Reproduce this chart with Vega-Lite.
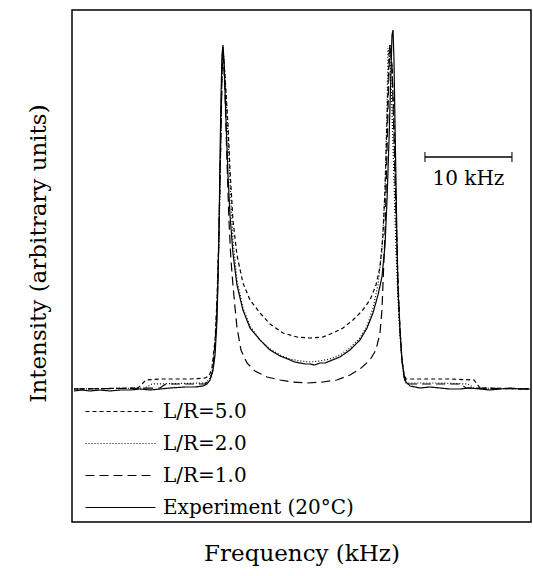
{
  "$schema": "https://vega.github.io/schema/vega-lite/v6.json",
  "width": 459,
  "height": 512,
  "autosize": "none",
  "padding": {"left": 72, "top": 10, "right": 2, "bottom": 54},
  "background": "white",
  "config": {
    "view": {"stroke": "black", "strokeWidth": 1.5},
    "font": "DejaVu Serif",
    "axis": {"grid": false, "labels": false, "ticks": false, "domain": false, "titleFont": "DejaVu Serif", "titleFontSize": 23, "titleFontWeight": "normal", "titleColor": "black"}
  },
  "datasets": {
    "curves": [
      {"s": "L/R=5.0", "f": -26.78, "I": -1}, {"s": "L/R=5.0", "f": -19.43, "I": 0}, {"s": "L/R=5.0", "f": -18.51, "I": 8},
      {"s": "L/R=5.0", "f": -16.90, "I": 9}, {"s": "L/R=5.0", "f": -13.45, "I": 9}, {"s": "L/R=5.0", "f": -11.72, "I": 10},
      {"s": "L/R=5.0", "f": -11.26, "I": 12}, {"s": "L/R=5.0", "f": -10.92, "I": 20}, {"s": "L/R=5.0", "f": -10.57, "I": 48},
      {"s": "L/R=5.0", "f": -10.34, "I": 88}, {"s": "L/R=5.0", "f": -10.11, "I": 158}, {"s": "L/R=5.0", "f": -9.89, "I": 258},
      {"s": "L/R=5.0", "f": -9.77, "I": 318}, {"s": "L/R=5.0", "f": -9.66, "I": 338}, {"s": "L/R=5.0", "f": -9.43, "I": 313},
      {"s": "L/R=5.0", "f": -9.08, "I": 263}, {"s": "L/R=5.0", "f": -8.85, "I": 218}, {"s": "L/R=5.0", "f": -8.51, "I": 168},
      {"s": "L/R=5.0", "f": -8.05, "I": 133}, {"s": "L/R=5.0", "f": -7.36, "I": 105}, {"s": "L/R=5.0", "f": -6.55, "I": 88},
      {"s": "L/R=5.0", "f": -5.40, "I": 75}, {"s": "L/R=5.0", "f": -4.25, "I": 64}, {"s": "L/R=5.0", "f": -2.76, "I": 55},
      {"s": "L/R=5.0", "f": -1.15, "I": 51}, {"s": "L/R=5.0", "f": 0.34, "I": 50}, {"s": "L/R=5.0", "f": 1.84, "I": 51},
      {"s": "L/R=5.0", "f": 2.99, "I": 55}, {"s": "L/R=5.0", "f": 4.14, "I": 60}, {"s": "L/R=5.0", "f": 5.29, "I": 68},
      {"s": "L/R=5.0", "f": 6.32, "I": 77}, {"s": "L/R=5.0", "f": 7.24, "I": 88}, {"s": "L/R=5.0", "f": 7.93, "I": 103},
      {"s": "L/R=5.0", "f": 8.39, "I": 121}, {"s": "L/R=5.0", "f": 8.74, "I": 153}, {"s": "L/R=5.0", "f": 8.97, "I": 198},
      {"s": "L/R=5.0", "f": 9.20, "I": 268}, {"s": "L/R=5.0", "f": 9.43, "I": 333}, {"s": "L/R=5.0", "f": 9.54, "I": 343},
      {"s": "L/R=5.0", "f": 9.77, "I": 323}, {"s": "L/R=5.0", "f": 10.00, "I": 263}, {"s": "L/R=5.0", "f": 10.23, "I": 183},
      {"s": "L/R=5.0", "f": 10.46, "I": 108}, {"s": "L/R=5.0", "f": 10.69, "I": 58}, {"s": "L/R=5.0", "f": 10.92, "I": 28},
      {"s": "L/R=5.0", "f": 11.15, "I": 14}, {"s": "L/R=5.0", "f": 11.38, "I": 9}, {"s": "L/R=5.0", "f": 12.99, "I": 9},
      {"s": "L/R=5.0", "f": 16.44, "I": 9}, {"s": "L/R=5.0", "f": 19.20, "I": 8}, {"s": "L/R=5.0", "f": 19.89, "I": 0},
      {"s": "L/R=5.0", "f": 25.63, "I": -1},

      {"s": "L/R=2.0", "f": -26.78, "I": -1}, {"s": "L/R=2.0", "f": -18.62, "I": 0}, {"s": "L/R=2.0", "f": -17.82, "I": 4},
      {"s": "L/R=2.0", "f": -11.72, "I": 5}, {"s": "L/R=2.0", "f": -11.26, "I": 8}, {"s": "L/R=2.0", "f": -10.92, "I": 16},
      {"s": "L/R=2.0", "f": -10.57, "I": 43}, {"s": "L/R=2.0", "f": -10.34, "I": 83}, {"s": "L/R=2.0", "f": -10.11, "I": 153},
      {"s": "L/R=2.0", "f": -9.89, "I": 258}, {"s": "L/R=2.0", "f": -9.77, "I": 328}, {"s": "L/R=2.0", "f": -9.66, "I": 341},
      {"s": "L/R=2.0", "f": -9.43, "I": 313}, {"s": "L/R=2.0", "f": -9.08, "I": 253}, {"s": "L/R=2.0", "f": -8.85, "I": 208},
      {"s": "L/R=2.0", "f": -8.51, "I": 148}, {"s": "L/R=2.0", "f": -8.05, "I": 108}, {"s": "L/R=2.0", "f": -7.36, "I": 80},
      {"s": "L/R=2.0", "f": -6.55, "I": 62}, {"s": "L/R=2.0", "f": -5.40, "I": 48}, {"s": "L/R=2.0", "f": -4.25, "I": 39},
      {"s": "L/R=2.0", "f": -3.10, "I": 33}, {"s": "L/R=2.0", "f": -1.95, "I": 29}, {"s": "L/R=2.0", "f": -0.80, "I": 27},
      {"s": "L/R=2.0", "f": 0.34, "I": 26}, {"s": "L/R=2.0", "f": 1.49, "I": 27}, {"s": "L/R=2.0", "f": 2.64, "I": 29},
      {"s": "L/R=2.0", "f": 3.79, "I": 33}, {"s": "L/R=2.0", "f": 4.94, "I": 40}, {"s": "L/R=2.0", "f": 6.09, "I": 50},
      {"s": "L/R=2.0", "f": 6.90, "I": 62}, {"s": "L/R=2.0", "f": 7.59, "I": 80}, {"s": "L/R=2.0", "f": 8.16, "I": 103},
      {"s": "L/R=2.0", "f": 8.62, "I": 138}, {"s": "L/R=2.0", "f": 8.97, "I": 198}, {"s": "L/R=2.0", "f": 9.20, "I": 278},
      {"s": "L/R=2.0", "f": 9.31, "I": 340}, {"s": "L/R=2.0", "f": 9.54, "I": 328}, {"s": "L/R=2.0", "f": 9.77, "I": 278},
      {"s": "L/R=2.0", "f": 10.00, "I": 208}, {"s": "L/R=2.0", "f": 10.23, "I": 138}, {"s": "L/R=2.0", "f": 10.46, "I": 88},
      {"s": "L/R=2.0", "f": 10.69, "I": 53}, {"s": "L/R=2.0", "f": 10.92, "I": 26}, {"s": "L/R=2.0", "f": 11.15, "I": 11},
      {"s": "L/R=2.0", "f": 11.38, "I": 5}, {"s": "L/R=2.0", "f": 15.29, "I": 5}, {"s": "L/R=2.0", "f": 18.51, "I": 4},
      {"s": "L/R=2.0", "f": 19.20, "I": 0}, {"s": "L/R=2.0", "f": 25.63, "I": -1},

      {"s": "L/R=1.0", "f": -26.78, "I": -1}, {"s": "L/R=1.0", "f": -16.90, "I": 0}, {"s": "L/R=1.0", "f": -16.21, "I": 4},
      {"s": "L/R=1.0", "f": -11.72, "I": 4}, {"s": "L/R=1.0", "f": -11.15, "I": 8}, {"s": "L/R=1.0", "f": -10.80, "I": 18},
      {"s": "L/R=1.0", "f": -10.46, "I": 58}, {"s": "L/R=1.0", "f": -10.23, "I": 108}, {"s": "L/R=1.0", "f": -10.00, "I": 208},
      {"s": "L/R=1.0", "f": -9.77, "I": 308}, {"s": "L/R=1.0", "f": -9.66, "I": 340}, {"s": "L/R=1.0", "f": -9.43, "I": 298},
      {"s": "L/R=1.0", "f": -9.20, "I": 228}, {"s": "L/R=1.0", "f": -8.97, "I": 168}, {"s": "L/R=1.0", "f": -8.74, "I": 128},
      {"s": "L/R=1.0", "f": -8.51, "I": 103}, {"s": "L/R=1.0", "f": -8.28, "I": 81}, {"s": "L/R=1.0", "f": -8.05, "I": 61},
      {"s": "L/R=1.0", "f": -7.59, "I": 38}, {"s": "L/R=1.0", "f": -6.90, "I": 25}, {"s": "L/R=1.0", "f": -5.98, "I": 17},
      {"s": "L/R=1.0", "f": -4.60, "I": 11}, {"s": "L/R=1.0", "f": -3.10, "I": 8}, {"s": "L/R=1.0", "f": -1.61, "I": 6},
      {"s": "L/R=1.0", "f": 0.11, "I": 5}, {"s": "L/R=1.0", "f": 1.84, "I": 6}, {"s": "L/R=1.0", "f": 3.45, "I": 8},
      {"s": "L/R=1.0", "f": 4.94, "I": 13}, {"s": "L/R=1.0", "f": 6.09, "I": 19}, {"s": "L/R=1.0", "f": 7.24, "I": 28},
      {"s": "L/R=1.0", "f": 7.93, "I": 38}, {"s": "L/R=1.0", "f": 8.39, "I": 55}, {"s": "L/R=1.0", "f": 8.62, "I": 78},
      {"s": "L/R=1.0", "f": 8.74, "I": 105}, {"s": "L/R=1.0", "f": 8.97, "I": 155}, {"s": "L/R=1.0", "f": 9.20, "I": 238},
      {"s": "L/R=1.0", "f": 9.43, "I": 318}, {"s": "L/R=1.0", "f": 9.54, "I": 343}, {"s": "L/R=1.0", "f": 9.77, "I": 323},
      {"s": "L/R=1.0", "f": 10.00, "I": 253}, {"s": "L/R=1.0", "f": 10.23, "I": 173}, {"s": "L/R=1.0", "f": 10.46, "I": 103},
      {"s": "L/R=1.0", "f": 10.69, "I": 58}, {"s": "L/R=1.0", "f": 10.92, "I": 28}, {"s": "L/R=1.0", "f": 11.15, "I": 11},
      {"s": "L/R=1.0", "f": 11.38, "I": 4}, {"s": "L/R=1.0", "f": 17.59, "I": 4}, {"s": "L/R=1.0", "f": 18.28, "I": 0},
      {"s": "L/R=1.0", "f": 25.63, "I": -1},

      {"s": "Experiment (20°C)", "f": -26.78, "I": -3}, {"s": "Experiment (20°C)", "f": -25.90, "I": -2}, {"s": "Experiment (20°C)", "f": -24.94, "I": -3},
      {"s": "Experiment (20°C)", "f": -23.79, "I": -2}, {"s": "Experiment (20°C)", "f": -22.64, "I": -3}, {"s": "Experiment (20°C)", "f": -21.49, "I": -2},
      {"s": "Experiment (20°C)", "f": -20.34, "I": -2}, {"s": "Experiment (20°C)", "f": -19.20, "I": -1}, {"s": "Experiment (20°C)", "f": -18.05, "I": -2},
      {"s": "Experiment (20°C)", "f": -16.90, "I": -1}, {"s": "Experiment (20°C)", "f": -15.75, "I": 0}, {"s": "Experiment (20°C)", "f": -14.02, "I": 1},
      {"s": "Experiment (20°C)", "f": -12.87, "I": 1}, {"s": "Experiment (20°C)", "f": -11.95, "I": 2}, {"s": "Experiment (20°C)", "f": -11.49, "I": 4},
      {"s": "Experiment (20°C)", "f": -11.15, "I": 8}, {"s": "Experiment (20°C)", "f": -10.80, "I": 18}, {"s": "Experiment (20°C)", "f": -10.57, "I": 33},
      {"s": "Experiment (20°C)", "f": -10.34, "I": 68}, {"s": "Experiment (20°C)", "f": -10.23, "I": 108}, {"s": "Experiment (20°C)", "f": -10.11, "I": 158},
      {"s": "Experiment (20°C)", "f": -10.00, "I": 228}, {"s": "Experiment (20°C)", "f": -9.89, "I": 288}, {"s": "Experiment (20°C)", "f": -9.77, "I": 333},
      {"s": "Experiment (20°C)", "f": -9.66, "I": 343}, {"s": "Experiment (20°C)", "f": -9.54, "I": 328}, {"s": "Experiment (20°C)", "f": -9.31, "I": 268},
      {"s": "Experiment (20°C)", "f": -9.08, "I": 213}, {"s": "Experiment (20°C)", "f": -8.85, "I": 173}, {"s": "Experiment (20°C)", "f": -8.51, "I": 135},
      {"s": "Experiment (20°C)", "f": -8.05, "I": 103}, {"s": "Experiment (20°C)", "f": -7.36, "I": 78}, {"s": "Experiment (20°C)", "f": -6.55, "I": 60},
      {"s": "Experiment (20°C)", "f": -5.40, "I": 48}, {"s": "Experiment (20°C)", "f": -4.25, "I": 38}, {"s": "Experiment (20°C)", "f": -3.10, "I": 32},
      {"s": "Experiment (20°C)", "f": -2.50, "I": 30}, {"s": "Experiment (20°C)", "f": -1.95, "I": 28}, {"s": "Experiment (20°C)", "f": -1.40, "I": 26},
      {"s": "Experiment (20°C)", "f": -0.80, "I": 25}, {"s": "Experiment (20°C)", "f": -0.20, "I": 24}, {"s": "Experiment (20°C)", "f": 0.34, "I": 24},
      {"s": "Experiment (20°C)", "f": 0.90, "I": 23}, {"s": "Experiment (20°C)", "f": 1.49, "I": 25}, {"s": "Experiment (20°C)", "f": 2.10, "I": 25},
      {"s": "Experiment (20°C)", "f": 2.64, "I": 27}, {"s": "Experiment (20°C)", "f": 3.79, "I": 31}, {"s": "Experiment (20°C)", "f": 4.94, "I": 38},
      {"s": "Experiment (20°C)", "f": 6.09, "I": 48}, {"s": "Experiment (20°C)", "f": 6.90, "I": 60}, {"s": "Experiment (20°C)", "f": 7.59, "I": 75},
      {"s": "Experiment (20°C)", "f": 8.16, "I": 93}, {"s": "Experiment (20°C)", "f": 8.62, "I": 111}, {"s": "Experiment (20°C)", "f": 8.97, "I": 143},
      {"s": "Experiment (20°C)", "f": 9.20, "I": 188}, {"s": "Experiment (20°C)", "f": 9.43, "I": 248}, {"s": "Experiment (20°C)", "f": 9.66, "I": 318},
      {"s": "Experiment (20°C)", "f": 9.77, "I": 353}, {"s": "Experiment (20°C)", "f": 9.89, "I": 358}, {"s": "Experiment (20°C)", "f": 10.00, "I": 328},
      {"s": "Experiment (20°C)", "f": 10.11, "I": 268}, {"s": "Experiment (20°C)", "f": 10.23, "I": 208}, {"s": "Experiment (20°C)", "f": 10.34, "I": 148},
      {"s": "Experiment (20°C)", "f": 10.46, "I": 98}, {"s": "Experiment (20°C)", "f": 10.69, "I": 58}, {"s": "Experiment (20°C)", "f": 10.92, "I": 28},
      {"s": "Experiment (20°C)", "f": 11.15, "I": 13}, {"s": "Experiment (20°C)", "f": 11.38, "I": 6}, {"s": "Experiment (20°C)", "f": 11.84, "I": 2},
      {"s": "Experiment (20°C)", "f": 12.99, "I": 0}, {"s": "Experiment (20°C)", "f": 14.10, "I": 1}, {"s": "Experiment (20°C)", "f": 15.29, "I": 0},
      {"s": "Experiment (20°C)", "f": 16.40, "I": -1}, {"s": "Experiment (20°C)", "f": 17.59, "I": -1}, {"s": "Experiment (20°C)", "f": 18.70, "I": 0},
      {"s": "Experiment (20°C)", "f": 19.89, "I": -1}, {"s": "Experiment (20°C)", "f": 21.00, "I": -2}, {"s": "Experiment (20°C)", "f": 22.18, "I": -1},
      {"s": "Experiment (20°C)", "f": 23.30, "I": 0}, {"s": "Experiment (20°C)", "f": 24.48, "I": -1}, {"s": "Experiment (20°C)", "f": 25.63, "I": -1}
    ],
    "scalebar": [
      {"x1": 13.56, "x2": 23.56, "xm": 18.56, "y": 231, "ty": 209, "label": "10 kHz"}
    ]
  },
  "layer": [
    {
      "data": {"name": "curves"},
      "mark": {"type": "line", "color": "black", "strokeWidth": 1.2},
      "encoding": {
        "x": {"field": "f", "type": "quantitative", "scale": {"domain": [-27.01, 25.75], "nice": false, "zero": false}, "axis": {"title": "Frequency (kHz)", "titlePadding": 20}},
        "y": {"field": "I", "type": "quantitative", "scale": {"domain": [-134, 378], "nice": false, "zero": false}, "axis": {"title": "Intensity (arbitrary units)", "titlePadding": 22, "titleY": 243}},
        "strokeDash": {
          "field": "s", "type": "nominal",
          "scale": {"domain": ["L/R=5.0", "L/R=2.0", "L/R=1.0", "Experiment (20°C)"], "range": [[4, 3], [1, 2], [9, 5], [1, 0]]},
          "legend": {
            "title": null, "orient": "none", "legendX": 36, "legendY": 389,
            "symbolType": "M-3,0H3", "symbolSize": 544, "symbolStrokeColor": "black", "symbolStrokeWidth": 1.3,
            "labelFont": "DejaVu Serif", "labelFontSize": 20, "labelColor": "black", "labelOffset": 30, "labelLimit": 300, "rowPadding": 9
          }
        },
        "strokeWidth": {
          "field": "s", "type": "nominal",
          "scale": {"domain": ["L/R=5.0", "L/R=2.0", "L/R=1.0", "Experiment (20°C)"], "range": [1.2, 1.2, 1.3, 2.2]},
          "legend": null
        },
        "order": {"field": "f", "type": "quantitative"}
      }
    },
    {
      "data": {"name": "scalebar"},
      "mark": {"type": "rule", "color": "black", "strokeWidth": 1.5},
      "encoding": {
        "x": {"field": "x1", "type": "quantitative"},
        "x2": {"field": "x2"},
        "y": {"field": "y", "type": "quantitative"}
      }
    },
    {
      "data": {"name": "scalebar"},
      "mark": {"type": "tick", "orient": "vertical", "color": "black", "size": 10, "thickness": 1.5},
      "encoding": {
        "x": {"field": "x1", "type": "quantitative"},
        "y": {"field": "y", "type": "quantitative"}
      }
    },
    {
      "data": {"name": "scalebar"},
      "mark": {"type": "tick", "orient": "vertical", "color": "black", "size": 10, "thickness": 1.5},
      "encoding": {
        "x": {"field": "x2", "type": "quantitative"},
        "y": {"field": "y", "type": "quantitative"}
      }
    },
    {
      "data": {"name": "scalebar"},
      "mark": {"type": "text", "color": "black", "font": "DejaVu Serif", "fontSize": 20, "baseline": "middle", "align": "center"},
      "encoding": {
        "x": {"field": "xm", "type": "quantitative"},
        "y": {"field": "ty", "type": "quantitative"},
        "text": {"field": "label"}
      }
    }
  ]
}
